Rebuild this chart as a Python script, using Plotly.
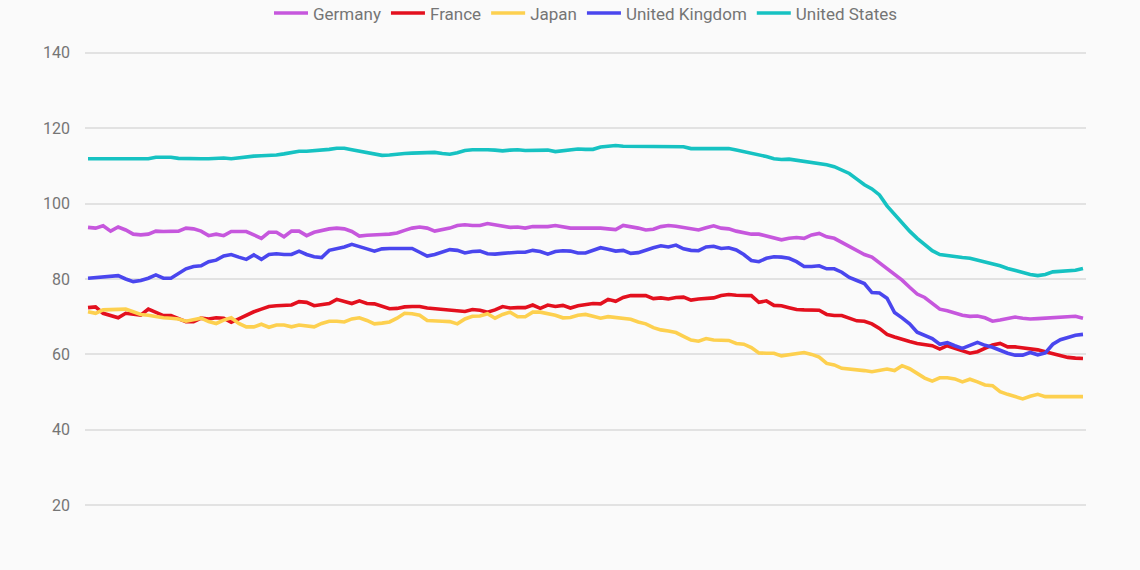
import plotly.graph_objects as go

countries = ["Germany", "France", "Japan", "United Kingdom", "United States"]
colors = ["#c657dd", "#e3101e", "#fdd04f", "#4a46ee", "#16c2c2"]

germany = [93.7,93.5,94.1,92.7,93.8,93.0,91.9,91.7,91.9,92.7,92.6,92.7,92.7,93.5,93.3,92.7,91.5,91.9,91.5,92.6,92.7,92.6,91.7,90.8,92.4,92.4,91.2,92.7,92.7,91.5,92.4,92.9,93.3,
           93.5,93.3,92.6,91.4,91.6,91.8,91.8,91.9,92.2,92.9,93.5,93.8,93.5,92.7,93.1,93.5,94.2,94.4,94.2,94.2,94.7,94.3,93.9,93.7,93.8,93.5,93.9,93.9,93.9,94.2,93.8,93.5,93.5,
           93.5,93.6,93.5,93.3,93.1,94.2,93.9,93.5,93.0,93.2,93.9,94.2,94.0,93.7,93.4,93.0,93.6,94.1,93.5,93.3,92.7,92.2,91.9,91.9,91.4,90.8,90.4,90.8,91.0,90.8,91.7,92.1,91.2,
           90.8,89.7,88.8,87.6,86.5,85.8,84.3,82.7,81.4,79.7,77.8,76.0,75.1,73.4,72.0,71.6,70.9,70.4,70.1,70.2,69.7,68.8,69.1,69.4,69.9,69.6,69.4,69.5,69.6,69.7,70.0,70.1,70.1,69.6]

france = [72.4,72.6,70.9,70.4,69.7,70.9,70.6,70.4,72.0,71.2,70.3,70.3,69.6,68.7,68.7,69.6,69.4,69.7,69.6,68.5,69.4,70.4,71.3,72.0,72.7,72.9,73.1,73.1,74.0,73.8,72.9,73.1,73.5,
          74.6,74.0,73.5,74.2,73.5,73.4,72.7,72.1,72.2,72.6,72.7,72.7,72.3,72.1,72.0,71.9,71.7,71.4,71.9,71.7,71.2,71.8,72.7,72.3,72.4,72.4,73.1,72.2,73.1,72.7,73.0,72.3,72.9,
          73.1,73.5,73.4,74.6,74.1,75.1,75.6,75.7,75.6,74.8,75.0,74.7,75.1,75.2,74.4,74.7,74.9,75.0,75.6,75.9,75.7,75.7,75.6,73.8,74.2,73.0,72.9,72.4,71.9,71.8,71.8,71.7,70.6,
          70.3,70.3,69.7,68.9,68.8,68.1,66.9,65.3,64.6,63.9,63.4,62.9,62.5,62.3,61.4,62.3,61.6,60.9,60.3,60.7,61.6,62.5,62.9,62.0,62.0,61.8,61.4,61.2,60.7,60.2,59.6,59.2,59.0,58.9]

japan = [71.3,70.9,71.8,71.8,71.8,72.0,71.3,70.6,70.4,70.0,69.7,69.6,69.4,68.8,69.1,69.6,68.7,68.2,69.1,69.7,68.2,67.3,67.3,68.0,67.2,67.8,67.8,67.3,67.8,67.6,67.3,68.2,68.8,
         68.8,68.6,69.4,69.7,69.0,68.1,68.3,68.6,69.6,70.9,70.8,70.4,69.0,68.8,68.8,68.7,68.1,69.4,70.1,70.2,70.8,69.6,70.6,71.2,70.0,70.0,71.2,71.2,70.8,70.4,69.7,69.8,70.4,
         70.6,70.1,69.6,70.0,69.8,69.6,69.3,68.6,68.1,67.1,66.5,66.2,65.8,64.8,63.8,63.5,64.2,63.8,63.8,63.7,62.9,62.7,61.8,60.4,60.3,60.3,59.6,59.9,60.4,60.5,60.0,59.3,57.6,
         57.2,56.3,56.1,56.1,55.7,55.4,55.8,56.1,55.7,57.0,56.2,55.0,53.7,52.9,53.8,53.8,53.5,52.7,53.4,52.7,51.9,51.7,50.1,49.4,48.8,48.2,48.9,49.4,48.8,48.8,48.9,49.0,48.8,48.8]

united_kingdom = [80.2,80.4,80.4,80.8,80.9,80.0,79.3,79.6,80.2,81.1,80.2,80.2,81.5,82.7,83.3,83.5,84.6,85.0,86.1,86.5,85.8,85.2,86.4,85.2,86.5,86.7,86.5,86.5,87.4,86.5,85.9,85.7,87.6,
                  88.0,88.5,89.2,88.7,88.0,87.4,88.0,88.1,88.1,88.1,88.1,87.1,86.1,86.5,87.2,87.8,87.6,86.9,87.3,87.4,86.7,86.6,86.8,87.0,87.1,87.1,87.6,87.3,86.6,87.3,87.5,87.4,86.9,
                  86.9,87.5,88.3,87.9,87.4,87.6,86.8,87.0,87.7,88.3,88.8,88.5,89.0,88.0,87.6,87.5,88.5,88.7,88.1,88.3,87.7,86.5,84.9,84.6,85.5,85.9,85.8,85.5,84.6,83.3,83.3,83.5,82.7,
                  82.7,81.8,80.4,79.6,78.8,76.4,76.3,74.9,71.1,69.7,68.1,65.9,65.0,64.2,62.7,63.1,62.3,61.6,62.4,63.2,62.4,61.9,61.1,60.3,59.8,59.8,60.5,59.9,60.4,62.7,63.9,64.6,65.1,65.3]

united_states = [111.9,111.9,111.8,111.9,111.9,111.9,111.9,111.9,111.9,112.3,112.4,112.3,112.0,111.9,111.8,111.9,111.9,112.0,112.1,111.9,112.2,112.5,112.6,112.7,112.7,112.9,113.2,113.6,113.9,113.9,114.0,114.2,114.4,
                 114.7,114.7,114.3,113.9,113.4,113.0,112.8,112.9,113.2,113.3,113.4,113.5,113.5,113.6,113.3,113.1,113.5,114.1,114.3,114.4,114.3,114.2,114.0,114.2,114.3,114.1,114.1,114.3,114.2,113.8,114.0,114.2,114.5,
                 114.4,114.4,115.0,115.3,115.4,115.2,115.2,115.3,115.3,115.2,115.3,115.3,115.3,115.1,114.6,114.6,114.7,114.8,114.8,114.6,114.2,113.8,113.5,113.1,112.5,111.9,111.7,111.8,111.5,111.3,111.1,110.6,110.3,
                 109.8,109.0,108.0,106.5,105.0,103.9,102.3,99.4,97.2,94.8,92.7,90.8,89.2,87.5,86.5,86.2,85.8,85.7,85.5,85.0,84.7,84.2,83.5,82.8,82.2,81.7,81.2,80.9,81.2,81.9,82.1,82.2,82.3,82.8]

y_ticks = [20, 40, 60, 80, 100, 120, 140]

series = [germany, france, japan, united_kingdom, united_states]
x = list(range(len(germany)))

fig = go.Figure()
for name, color, vals in zip(countries, colors, series):
    fig.add_trace(go.Scatter(x=x, y=vals, mode="lines", name=name,
                             line=dict(color=color, width=3.6)))

fig.update_layout(
    width=1140, height=570,
    paper_bgcolor="#fafafa", plot_bgcolor="#fafafa",
    margin=dict(l=85, r=54, t=34, b=46, autoexpand=False),
    font=dict(family="Roboto, sans-serif", size=17, color="#757575"),
    showlegend=True,
    legend=dict(orientation="h", x=0.5, xanchor="center", y=1.042, yanchor="middle",
                yref="paper", font=dict(size=17, color="#757575"),
                itemwidth=34, tracegroupgap=0, bgcolor="rgba(0,0,0,0)"),
    xaxis=dict(visible=False, range=[-0.4, len(germany) - 1 + 0.4]),
    yaxis=dict(range=[15, 145], tickvals=y_ticks, showgrid=True, gridcolor="#e2e2e2",
               gridwidth=1.5, zeroline=False, showline=False, ticks="",
               ticklabelstandoff=14, tickfont=dict(size=16, color="#757575")),
)

fig.write_html("out.html", config={"displayModeBar": False},
               post_script="document.body.style.margin='0';document.body.style.background='#fafafa';")
